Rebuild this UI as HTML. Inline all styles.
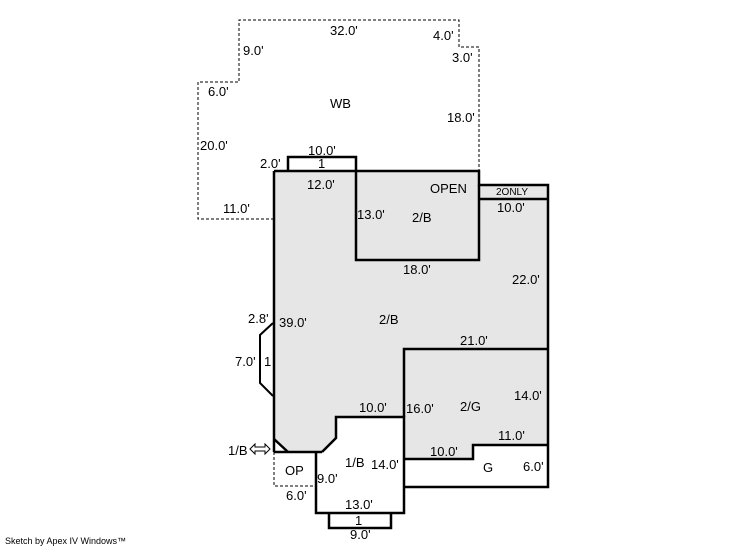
<!DOCTYPE html>
<html><head><style>
html,body{margin:0;padding:0;background:#fff;}
svg text{font-family:"Liberation Sans",Arial,sans-serif;font-size:13px;fill:#000;}
</style></head><body>
<svg width="746" height="547" viewBox="0 0 746 547" xmlns="http://www.w3.org/2000/svg">
<polyline points="274,219 198,219 198,82 239,82 239,20 459,20 459,47 479,47 479,171" fill="none" stroke="#000" stroke-width="1" stroke-dasharray="3,2"/>
<polygon points="274,171 479,171 479,185 548,185 548,445 473,445 473,459 404,459 404,417 336,417 336,438 322,452 288,452 274,439" fill="#e6e6e6"/>
<g fill="none" stroke="#000" stroke-width="2.5">
<polyline points="274,171 479,171 479,185 548,185 548,487 404,487"/>
<line x1="274" y1="171" x2="274" y2="452"/>
<line x1="274" y1="452" x2="322" y2="452"/>
<line x1="274" y1="439" x2="288" y2="452"/>
<polyline points="322,452 336,438 336,417 404,417 404,513 316,513 316,452"/>
<line x1="479" y1="199" x2="548" y2="199"/>
<polyline points="356,171 356,260 479,260 479,185"/>
<polyline points="288,171 288,157 356,157 356,171"/>
<polyline points="404,417 404,349 548,349"/>
<polyline points="404,459 473,459 473,445 548,445"/>
<polyline points="329,513 329,528 391,528 391,513"/>
<polyline points="273,323 260,335 260,383 273,396" stroke-width="2"/>
</g>
<polyline points="274,452 274,486 316,486" fill="none" stroke="#000" stroke-width="1" stroke-dasharray="3,2"/>
<!-- double arrow -->
<polygon points="250,449 255,444 255,447 265,447 265,444 270,449 265,454 265,451 255,451 255,454" fill="#fff" stroke="#000" stroke-width="1"/>
<text x="330" y="35">32.0'</text>
<text x="433" y="40">4.0'</text>
<text x="452" y="62">3.0'</text>
<text x="243" y="55">9.0'</text>
<text x="208" y="96">6.0'</text>
<text x="330" y="108">WB</text>
<text x="447" y="122">18.0'</text>
<text x="200" y="150">20.0'</text>
<text x="308" y="155">10.0'</text>
<text x="260" y="168">2.0'</text>
<text x="318" y="168">1</text>
<text x="307" y="189">12.0'</text>
<text x="430" y="193">OPEN</text>
<text x="496" y="195" style="font-size:10px">2ONLY</text>
<text x="497" y="212">10.0'</text>
<text x="223" y="213">11.0'</text>
<text x="357" y="219">13.0'</text>
<text x="412" y="222">2/B</text>
<text x="403" y="274">18.0'</text>
<text x="512" y="284">22.0'</text>
<text x="248" y="323">2.8'</text>
<text x="279" y="327">39.0'</text>
<text x="379" y="324">2/B</text>
<text x="460" y="345">21.0'</text>
<text x="235" y="366">7.0'</text>
<text x="264" y="366">1</text>
<text x="514" y="400">14.0'</text>
<text x="359" y="412">10.0'</text>
<text x="406" y="413">16.0'</text>
<text x="460" y="411">2/G</text>
<text x="498" y="440">11.0'</text>
<text x="228" y="455">1/B</text>
<text x="430" y="456">10.0'</text>
<text x="345" y="467">1/B</text>
<text x="371" y="469">14.0'</text>
<text x="285" y="475">OP</text>
<text x="483" y="472">G</text>
<text x="523" y="471">6.0'</text>
<text x="317" y="483">9.0'</text>
<text x="286" y="500">6.0'</text>
<text x="345" y="509">13.0'</text>
<text x="355" y="525">1</text>
<text x="350" y="539">9.0'</text>
<text x="5" y="544" style="font-size:9px">Sketch by Apex IV Windows™</text>
</svg>
</body></html>
